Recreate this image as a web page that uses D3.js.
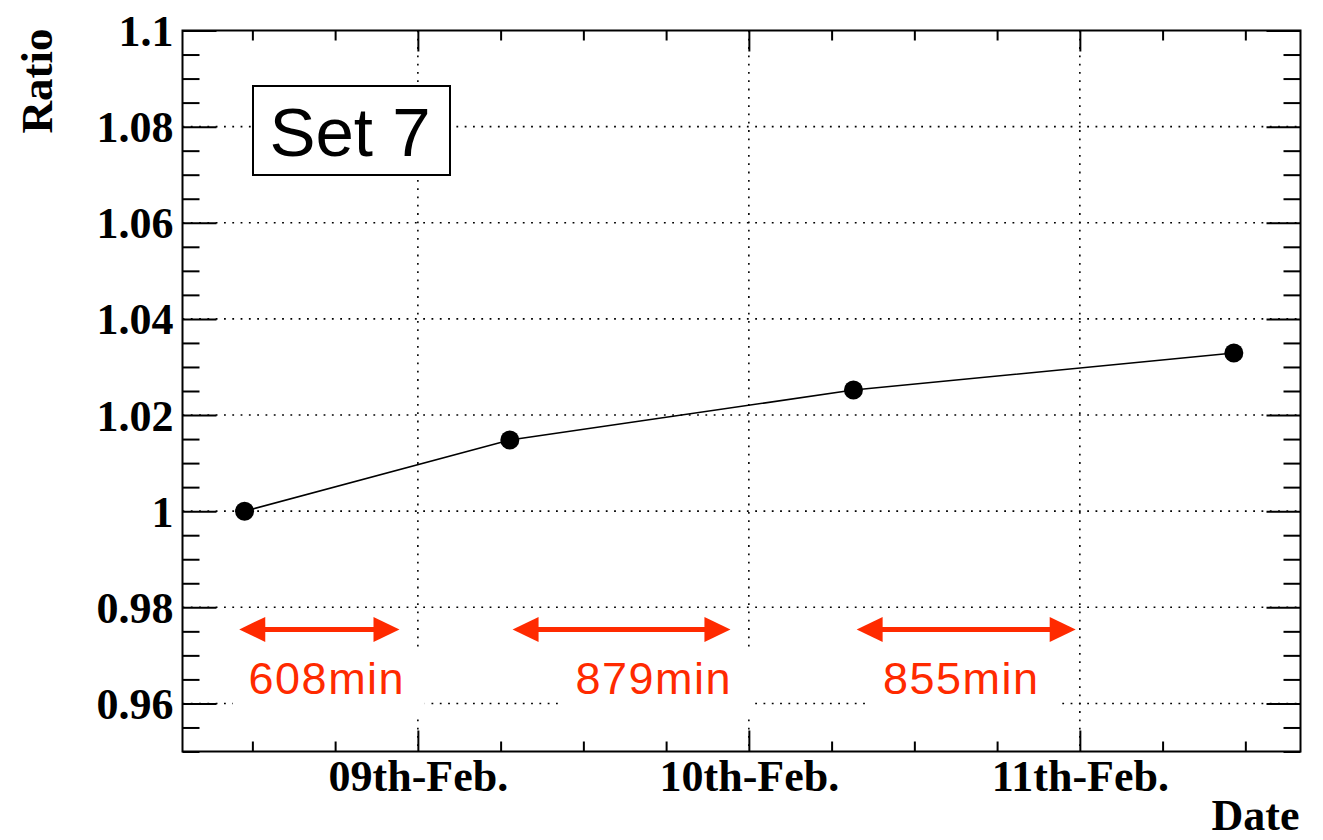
<!DOCTYPE html>
<html>
<head>
<meta charset="utf-8">
<script src="https://cdn.jsdelivr.net/npm/d3@7"></script>
<style>
  html, body { margin: 0; padding: 0; background: #fff; }
  svg { display: block; }
</style>
</head>
<body>
<svg id="chart" width="1323" height="840"></svg>
<script>
// Measurement times (UTC) and ratio values
const times  = ["2020-02-08T11:26Z", "2020-02-09T06:40Z", "2020-02-10T07:35Z", "2020-02-11T11:10Z"];
const ratios = [1.000, 1.0148, 1.0252, 1.0329];

// Interval annotations: arrow spans, label centres and texts
const arrowStarts = ["2020-02-08T11:03Z", "2020-02-09T06:52Z", "2020-02-10T07:49Z"];
const arrowEnds   = ["2020-02-08T22:40Z", "2020-02-09T22:40Z", "2020-02-10T23:42Z"];
const labelTimes  = ["2020-02-08T17:24Z", "2020-02-09T17:06Z", "2020-02-10T15:24Z"];
const labelTexts  = ["608min", "879min", "855min"];
const arrowLevel = 0.9754;
const labelLevel = 0.9619;

// Axis ranges and ticks
const xDomain = ["2020-02-08T06:56Z", "2020-02-11T16:00Z"];
const yDomain = [0.95, 1.10];
const yMajorTicks = [0.96, 0.98, 1.00, 1.02, 1.04, 1.06, 1.08, 1.10];
const yTickLabels = ["0.96", "0.98", "1", "1.02", "1.04", "1.06", "1.08", "1.1"];
const yGridValues = [0.96, 0.98, 1.00, 1.02, 1.04, 1.06, 1.08];
const xTitle = "Date";
const yTitle = "Ratio";
const setLabel = "Set 7";

const parse = d3.isoParse;
const svg = d3.select("#chart");

const L = 182.5, R = 1300.5, T = 30.5, B = 751.5;
const x = d3.scaleUtc().domain(xDomain.map(parse)).range([L, R]);
const y = d3.scaleLinear().domain(yDomain).range([B, T]);

const dayTicks = x.ticks(d3.utcDay.every(1));
const sixHourTicks = x.ticks(d3.utcHour.every(6)).filter(d => d.getUTCHours() !== 0);
const yMinor = d3.range(0, 31).map(i => +(0.95 + i * 0.005).toFixed(3))
  .filter(v => !yMajorTicks.some(m => Math.abs(m - v) < 1e-9));

const serif = "'Liberation Serif', 'Times New Roman', serif";
const sans = "'Liberation Sans', Arial, Helvetica, sans-serif";
const labelSize = 44;

// Dotted grid
const grid = svg.append("g").attr("stroke", "#000").attr("stroke-width", 1.6)
  .attr("stroke-dasharray", "1.8,6.5").attr("fill", "none");
grid.selectAll("line.h").data(yGridValues).join("line")
  .attr("x1", L).attr("x2", R).attr("y1", d => y(d)).attr("y2", d => y(d));
grid.selectAll("line.v").data(dayTicks).join("line")
  .attr("x1", d => x(d)).attr("x2", d => x(d)).attr("y1", T).attr("y2", B);

// Axes with inward ticks on all four sides
function styleAxis(g) {
  g.select(".domain").remove();
  g.selectAll(".tick line").attr("stroke", "#000").attr("stroke-width", 2);
  g.selectAll("text").attr("fill", "#000").attr("font-family", serif)
    .attr("font-weight", "bold").attr("font-size", labelSize);
}

const yLabelMap = new Map(yMajorTicks.map((v, i) => [v, yTickLabels[i]]));
svg.append("g").attr("transform", `translate(${L},0)`)
  .call(d3.axisLeft(y).tickValues(yMajorTicks).tickSize(-34).tickPadding(9)
    .tickFormat(d => yLabelMap.get(d)))
  .call(styleAxis)
  .call(g => g.selectAll("text").attr("dy", "0.34em"));
svg.append("g").attr("transform", `translate(${L},0)`)
  .call(d3.axisLeft(y).tickValues(yMinor).tickSize(-17).tickFormat(""))
  .call(styleAxis);
svg.append("g").attr("transform", `translate(${R},0)`)
  .call(d3.axisRight(y).tickValues(yMajorTicks).tickSize(-34).tickFormat(""))
  .call(styleAxis);
svg.append("g").attr("transform", `translate(${R},0)`)
  .call(d3.axisRight(y).tickValues(yMinor).tickSize(-17).tickFormat(""))
  .call(styleAxis);

const fmt = d3.utcFormat("%dth-%b.");
svg.append("g").attr("transform", `translate(0,${B})`)
  .call(d3.axisBottom(x).tickValues(dayTicks).tickSize(-21).tickPadding(8).tickFormat(fmt))
  .call(styleAxis);
svg.append("g").attr("transform", `translate(0,${B})`)
  .call(d3.axisBottom(x).tickValues(sixHourTicks).tickSize(-10).tickFormat(""))
  .call(styleAxis);
svg.append("g").attr("transform", `translate(0,${T})`)
  .call(d3.axisTop(x).tickValues(dayTicks).tickSize(-21).tickFormat(""))
  .call(styleAxis);
svg.append("g").attr("transform", `translate(0,${T})`)
  .call(d3.axisTop(x).tickValues(sixHourTicks).tickSize(-10).tickFormat(""))
  .call(styleAxis);

// Frame
svg.append("rect").attr("x", L).attr("y", T).attr("width", R - L).attr("height", B - T)
  .attr("fill", "none").attr("stroke", "#000").attr("stroke-width", 2);

// Axis titles
svg.append("text").attr("transform", `translate(52,${T - 2}) rotate(-90)`)
  .attr("text-anchor", "end").attr("font-family", serif).attr("font-weight", "bold")
  .attr("font-size", 45).text(yTitle);
svg.append("text").attr("x", R - 1).attr("y", 830)
  .attr("text-anchor", "end").attr("font-family", serif).attr("font-weight", "bold")
  .attr("font-size", labelSize).text(xTitle);

// Data line and markers
const pts = times.map((t, i) => ({ t: parse(t), v: ratios[i] }));
svg.append("path").datum(pts)
  .attr("d", d3.line().x(d => x(d.t)).y(d => y(d.v)))
  .attr("fill", "none").attr("stroke", "#000").attr("stroke-width", 1.6);
svg.append("g").selectAll("circle").data(pts).join("circle")
  .attr("cx", d => x(d.t)).attr("cy", d => y(d.v)).attr("r", 9.5).attr("fill", "#000");

// Interval annotations
const red = "#ff2a00";
const ann = svg.append("g");
labelTexts.forEach((txt, i) => {
  const cx = x(parse(labelTimes[i]));
  const by = y(labelLevel);
  ann.append("rect").attr("x", cx - 94).attr("y", by - 47)
    .attr("width", 192).attr("height", 68).attr("fill", "#fff");
  ann.append("text").attr("x", cx).attr("y", by).attr("text-anchor", "middle")
    .attr("font-family", sans).attr("font-size", 45).attr("letter-spacing", 1.5)
    .attr("fill", red).text(txt);

  const x0 = x(parse(arrowStarts[i])), x1 = x(parse(arrowEnds[i])), ay = y(arrowLevel);
  const hl = 26, hw = 12.5;
  ann.append("line").attr("x1", x0 + hl - 2).attr("x2", x1 - hl + 2)
    .attr("y1", ay).attr("y2", ay).attr("stroke", red).attr("stroke-width", 5);
  ann.append("path").attr("fill", red)
    .attr("d", `M${x0},${ay}L${x0 + hl},${ay - hw}L${x0 + hl},${ay + hw}Z`);
  ann.append("path").attr("fill", red)
    .attr("d", `M${x1},${ay}L${x1 - hl},${ay - hw}L${x1 - hl},${ay + hw}Z`);
});

// Set label box
const box = svg.append("g");
box.append("rect").attr("x", 253).attr("y", 86).attr("width", 197).attr("height", 89)
  .attr("fill", "#fff").attr("stroke", "#000").attr("stroke-width", 2);
box.append("text").attr("x", 350).attr("y", 156).attr("text-anchor", "middle")
  .attr("font-family", sans).attr("font-size", 69).attr("fill", "#000").text(setLabel);
</script>
</body>
</html>
